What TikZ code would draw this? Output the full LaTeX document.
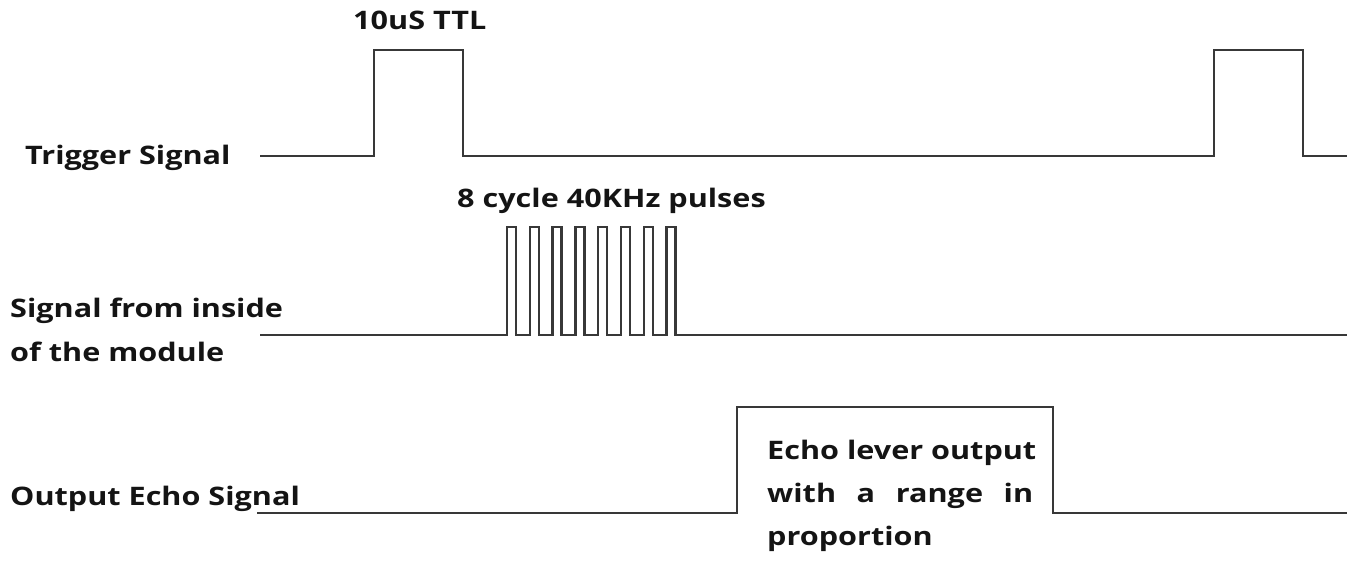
\documentclass[tikz,border=0pt]{standalone}
\usepackage{fontspec}
\setmainfont[FakeStretch=1.2]{Open Sans}
\begin{document}
\begin{tikzpicture}[x=1pt,y=-1pt,
  wave/.style={draw=black!78, line width=2.4pt, line join=miter},
  lbl/.style={font=\bfseries\fontsize{25.5}{30}\selectfont, text=black!92, inner sep=0pt, anchor=base west}]
\useasboundingbox (0,0) rectangle (1352,561);
% labels
\node[lbl] (trig) at (25,165) {Trigger Signal};
\node[lbl] (ttl) at (353,30) {10uS TTL};
\node[lbl] (cyc) at (457,208) {8 cycle 40KHz pulses};
\node[lbl] (sig1) at (10,318) {Signal from inside};
\node[lbl] (sig2) at (10,361) {of the module};
\node[lbl] (out) at (10,505) {Output Echo Signal};
\node[lbl] (e1) at (767,459) {Echo lever output};
\node[lbl] (e2) at (767,502) {\makebox[266pt][s]{with a range in}};
\node[lbl] (e3) at (767,545) {proportion};
% trigger waveform
\draw[wave] (260,156) -| (374,50) -| (463,156) -| (1214,50) -| (1303,156) -- (1347,156);
% internal pulses
\draw[wave] (260,335) foreach \i in {0,...,7} { -| ({507+22.8*\i},227) -| ({516+22.8*\i},335) } -- (1347,335);
% echo
\draw[wave] (257,513) -| (737,407) -| (1053,513) -- (1347,513);
\end{tikzpicture}
\end{document}
